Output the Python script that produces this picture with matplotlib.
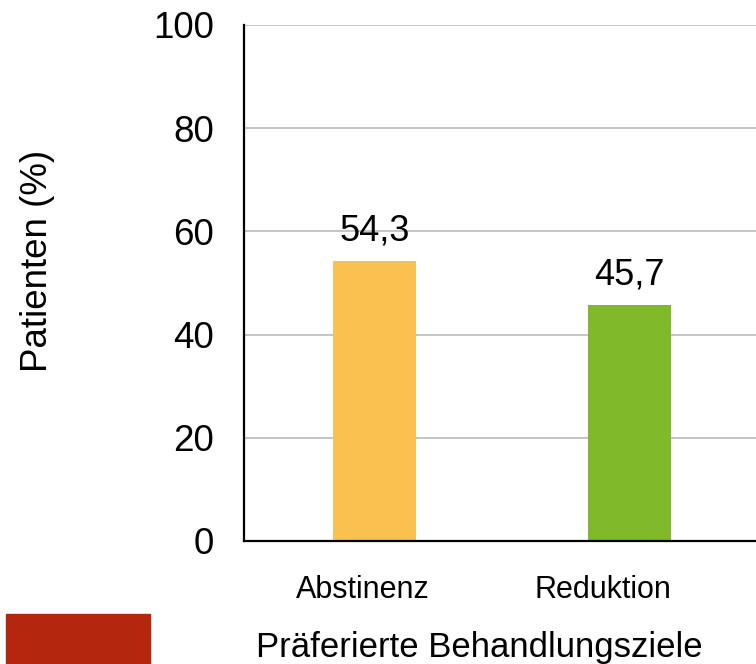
import matplotlib.pyplot as plt
from matplotlib.patches import Rectangle
from matplotlib.transforms import ScaledTranslation

plt.rcParams["font.family"] = ["Liberation Sans", "DejaVu Sans"]

categories = ["Abstinenz", "Reduktion"]
values = [54.3, 45.7]
bar_colors = ["#FBC150", "#80B92A"]
y_ticks = [0, 20, 40, 60, 80, 100]

fig = plt.figure(figsize=(7.56, 6.64), dpi=100)
W, H = 756, 664
# axes box in pixels: left 244, bottom 541, top 25, right runs off the canvas
ax = fig.add_axes([244 / W, (H - 541) / H, (760 - 244) / W, (541 - 25) / H])

x = list(range(len(categories)))
ax.bar(x, values, width=0.327, color=bar_colors, zorder=2)
for xi, v in zip(x, values):
    ax.text(xi, v + 4.0, f"{v:.1f}".replace(".", ","), ha="center",
            va="baseline", fontsize=26)

ax.set_xlim(-0.513, 1.513)
ax.set_ylim(0, 100)
ax.set_yticks(y_ticks)
ax.set_yticklabels([str(t) for t in y_ticks], fontsize=26.5)
ax.set_xticks(x)
ax.set_xticklabels(categories, fontsize=22)
ax.tick_params(axis="both", length=0)
ax.tick_params(axis="y", pad=21.5)
ax.tick_params(axis="x", pad=24.5)

# the category labels sit a bit left of their bars in the original
for lab, dx in zip(ax.get_xticklabels(), [-12, -26]):
    lab.set_transform(lab.get_transform()
                      + ScaledTranslation(dx / 100, 0, fig.dpi_scale_trans))

ax.yaxis.grid(True, color="#BFBFBF", linewidth=1.3, zorder=0)
ax.set_axisbelow(True)
for side in ["top", "right"]:
    ax.spines[side].set_visible(False)
ax.spines["left"].set_linewidth(1.6)
ax.spines["bottom"].set_linewidth(1.6)

ax.set_ylabel("Patienten (%)", fontsize=26.5)
ax.yaxis.set_label_coords((55 - 244) / 516, (541 - 261) / 516)
ax.set_xlabel("Präferierte Behandlungsziele", fontsize=25, labelpad=18.5)
ax.xaxis.label.set_x((479 - 244) / 516)

# red block at bottom left corner
fig.patches.append(Rectangle((6 / W, 0), (150 - 6) / W, (H - 614) / H,
                             transform=fig.transFigure, color="#B5260F"))

fig.savefig("out.png", dpi=100)
